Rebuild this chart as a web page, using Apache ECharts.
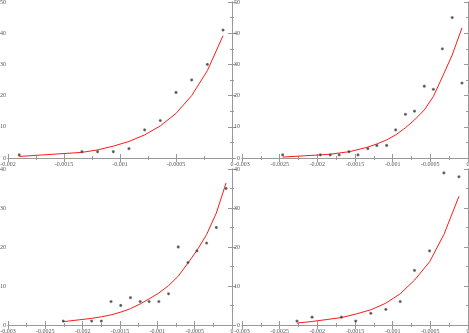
<!DOCTYPE html>
<html>
<head>
<meta charset="utf-8">
<script src="https://cdn.jsdelivr.net/npm/echarts@6/dist/echarts.min.js"></script>
<style>
  html, body { margin: 0; padding: 0; background: #fff; }
  #chart { width: 469px; height: 333px; }
</style>
</head>
<body>
<div id="chart"></div>
<script>
// top left
var xs1 = [-0.0019, -0.00134, -0.0012, -0.00106, -0.00092, -0.00078, -0.00064, -0.0005, -0.00036, -0.00022, -0.00008];
var pts1 = [1, 2, 2, 2, 3, 9, 12, 21, 25, 30, 41];
var fit1 = [0.5, 1.8, 2.6, 3.8, 5.3, 7.4, 10.3, 14.3, 20, 28, 39.2];

// top right
var xs2 = [-0.00246, -0.00196, -0.00183, -0.00171, -0.00158, -0.00146, -0.00133, -0.00121, -0.00108, -0.00096, -0.00083, -0.00071, -0.00058, -0.00046, -0.00034, -0.00021, -0.00008];
var pts2 = [1, 1, 1, 1, 2, 1, 3, 4, 4, 9, 14, 15, 23, 22, 35, 45, 24];
var fit2 = [0.3, 1.0, 1.2, 1.6, 2.0, 2.7, 3.5, 4.5, 5.8, 7.4, 9.7, 12.2, 15.4, 19.7, 26, 33, 41.7];

// bottom left
var xs3 = [-0.00226, -0.00188, -0.00175, -0.00162, -0.00149, -0.00136, -0.00123, -0.00111, -0.00098, -0.00085, -0.00072, -0.00059, -0.00047, -0.00034, -0.00021, -0.00008];
var pts3 = [1, 1, 1, 6, 5, 7, 6, 6, 6, 8, 20, 16, 19, 21, 25, 35];
var fit3 = [0.85, 1.7, 2.1, 2.6, 3.3, 4.2, 5.4, 6.7, 8.2, 10.1, 12.5, 15.9, 19.1, 23.2, 28.7, 36.4];

// bottom right
var xs4 = [-0.00227, -0.00207, -0.00168, -0.00149, -0.00129, -0.00109, -0.0009, -0.00071, -0.00051, -0.00032, -0.00012];
var pts4 = [1, 2, 2, 1, 3, 4, 6, 14, 19, 39, 38];
var fit4 = [0.5, 0.9, 1.9, 2.8, 3.9, 5.6, 8, 11.5, 16.2, 23.2, 33];

var xMins = [-0.002, -0.003, -0.003, -0.003];
var yMaxs = [50, 50, 40, 40];

var panels = [
  { x: xs1, pts: pts1, fit: fit1, grid: { left: 8, top: 2, width: 224, height: 156 } },
  { x: xs2, pts: pts2, fit: fit2, grid: { left: 242, top: 2, width: 226, height: 156 } },
  { x: xs3, pts: pts3, fit: fit3, grid: { left: 8, top: 169, width: 224, height: 156 } },
  { x: xs4, pts: pts4, fit: fit4, grid: { left: 242, top: 169, width: 226, height: 156 } }
];

var lineCol = '#999';
var textStyle = { color: '#555', fontSize: 6, fontFamily: 'Liberation Serif' };

function axisBase(showLabel, margin) {
  return {
    type: 'value',
    axisLine: { show: true, lineStyle: { color: lineCol, width: 1 } },
    axisTick: { show: true, inside: true, length: 4, lineStyle: { color: lineCol } },
    minorTick: { show: true, splitNumber: 2, length: 2, lineStyle: { color: lineCol } },
    splitLine: { show: false },
    axisLabel: Object.assign({ show: showLabel, margin: margin,
      formatter: function (v) { return String(+v.toFixed(5)); } }, textStyle)
  };
}

var grids = [], xAxes = [], yAxes = [], series = [];
panels.forEach(function (p, i) {
  grids.push(Object.assign({ outerBoundsMode: 'none', containLabel: false }, p.grid));
  ['bottom', 'top'].forEach(function (pos, k) {
    xAxes.push(Object.assign(axisBase(k === 0, 3), {
      gridIndex: i, position: pos, min: xMins[i], max: 0, interval: 0.0005
    }));
  });
  ['left', 'right'].forEach(function (pos, k) {
    yAxes.push(Object.assign(axisBase(k === 0, 2), {
      gridIndex: i, position: pos, min: 0, max: yMaxs[i], interval: 10
    }));
  });
  series.push({
    type: 'line',
    xAxisIndex: 2 * i, yAxisIndex: 2 * i,
    data: p.x.map(function (x, j) { return [x, p.fit[j]]; }),
    showSymbol: false, symbol: 'none',
    lineStyle: { color: '#ff1a1a', width: 1 },
    animation: false, z: 2
  });
  series.push({
    type: 'scatter',
    xAxisIndex: 2 * i, yAxisIndex: 2 * i,
    data: p.x.map(function (x, j) { return [x, p.pts[j]]; }),
    symbol: 'circle', symbolSize: 2.8,
    itemStyle: { color: '#2a2a2a', borderColor: '#aaa', borderWidth: 0.4 },
    animation: false, z: 3
  });
});

var chart = echarts.init(document.getElementById('chart'));
chart.setOption({
  backgroundColor: '#fff',
  animation: false,
  grid: grids,
  xAxis: xAxes,
  yAxis: yAxes,
  series: series
});
</script>
</body>
</html>
